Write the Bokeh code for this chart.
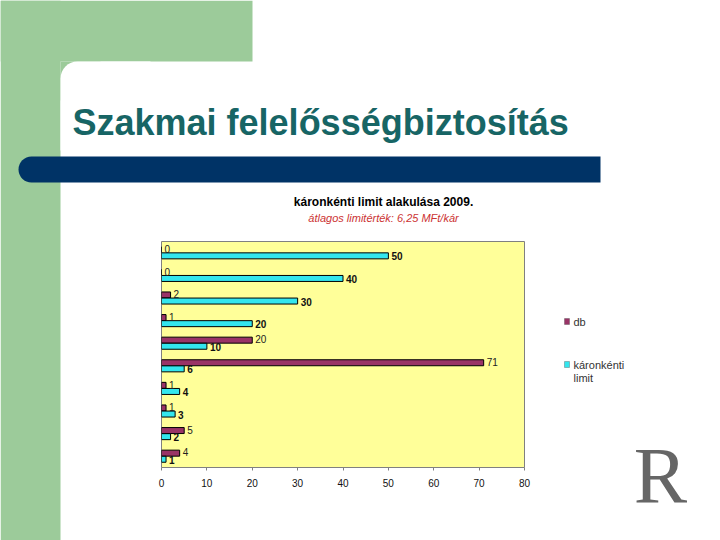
from bokeh.plotting import figure
from bokeh.layouts import column
from bokeh.models import (Range1d, ColumnDataSource, BoxAnnotation, Label,
                          FixedTicker)
from bokeh.transform import dodge
from bokeh.core.properties import value
from bokeh.embed import file_html
from bokeh.resources import INLINE

# ---- data (top to bottom) ----
groups = list(range(10))
db = [0, 0, 2, 1, 20, 71, 1, 1, 5, 4]
limit = [50, 40, 30, 20, 10, 5, 4, 3, 2, 1]
db_labels = ["0", "0", "2", "1", "20", "71", "1", "1", "5", "4"]
limit_labels = ["50", "40", "30", "20", "10", "6", "4", "3", "2", "1"]
x_ticks = [0, 10, 20, 30, 40, 50, 60, 70, 80]

slide_title = "Szakmai felelősségbiztosítás"
chart_title = "káronkénti limit alakulása 2009."
chart_subtitle = "átlagos limitérték: 6,25 MFt/kár"
legend_db = "db"
legend_limit = ["káronkénti", "limit"]

FONT = "Liberation Sans"
MAROON = "#993366"
CYAN = "#33E6EE"
GREEN = "#9CCB9A"
NAVY = "#003366"
TEAL = "#176565"

# ================= background slide =================
bg = figure(width=720, height=540, output_backend="svg", toolbar_location=None,
            x_range=Range1d(0, 720), y_range=Range1d(540, 0), title=None,
            min_border=0, frame_align=False)
bg.axis.visible = False
bg.grid.visible = False
bg.outline_line_color = None
bg.background_fill_color = "white"
bg.border_fill_color = "white"

def box(l, t, r, b, color, radius=0, line=None):
    bg.add_layout(BoxAnnotation(left=l, right=r, top=t, bottom=b,
                                fill_color=color, fill_alpha=1.0,
                                line_color=line, line_width=1,
                                border_radius=radius))

box(0, 0, 252, 61, GREEN)
box(0, 0, 60, 540, GREEN)
box(60, 61, 100, 100, GREEN)
box(60, 61, 150, 150, "white", (17, 0, 0, 0))
box(18, 156, 600, 182, NAVY, (13, 0, 0, 13))

def lab(x, y, text, size, color="black", style="normal", align="left",
        baseline="middle", font=FONT):
    bg.add_layout(Label(x=x, y=y, text=text,
                        text_font=font, text_font_size=size, text_color=color,
                        text_font_style=style, text_align=align,
                        text_baseline=baseline))

lab(72, 121.5, slide_title, "36px", TEAL, "bold", baseline="alphabetic")
lab(383, 201, chart_title, "12px", "black", "bold", align="center")
lab(383, 217, chart_subtitle, "11px", "#CC3333", "italic", align="center")

# legend
box(564, 318, 569, 324, MAROON, line="#333333")
box(564, 361, 569, 367, CYAN, line="#333333")
lab(573, 321, legend_db, "11px", "#333333")
lab(573, 364, legend_limit[0], "11px", "#333333")
lab(573, 377, legend_limit[1], "11px", "#333333")

# logo
lab(660, 475, "R", "80px", "#666666", align="center", baseline="alphabetic",
    font="Liberation Serif")

# ================= chart =================
src = ColumnDataSource(dict(
    y=[g + 0.5 for g in groups],
    db=db, limit=limit, dbl=db_labels, liml=limit_labels,
))

p = figure(width=720, height=540, output_backend="svg", toolbar_location=None,
           x_range=Range1d(0, 80), y_range=Range1d(10, 0), title=None,
           min_border_left=161, min_border_right=196,
           min_border_top=241, min_border_bottom=73, frame_align=False,
           styles={"position": "absolute", "left": "0px", "top": "0px"})
p.background_fill_color = "#FFFF99"
p.border_fill_color = None
p.outline_line_color = "#808080"
p.outline_line_width = 1
p.grid.visible = False
p.yaxis.visible = False

ax = p.xaxis[0]
ax.ticker = FixedTicker(ticks=x_ticks)
ax.axis_line_color = None
ax.major_tick_line_color = "#808080"
ax.major_tick_out = 3
ax.major_tick_in = 0
ax.minor_tick_line_color = None
ax.major_label_text_font = FONT
ax.major_label_text_font_size = "10px"
ax.major_label_text_color = "#111111"
ax.major_label_standoff = 8

H = 0.265
p.hbar(y=dodge("y", -0.135, range=p.y_range), left=0, right="db", height=H,
       source=src, fill_color=MAROON, line_color="black", line_width=1)
p.hbar(y=dodge("y", 0.135, range=p.y_range), left=0, right="limit", height=H,
       source=src, fill_color=CYAN, line_color="black", line_width=1)

p.text(x="db", y=dodge("y", -0.17, range=p.y_range), text="dbl", source=src,
       x_offset=3, text_baseline="middle", text_align="left",
       text_font=value(FONT), text_font_size="10px", text_color="#222222")
p.text(x="limit", y=dodge("y", 0.16, range=p.y_range), text="liml", source=src,
       x_offset=3, text_baseline="middle", text_align="left",
       text_font=value(FONT), text_font_size="10px", text_font_style="bold",
       text_color="#111111")

layout = column(bg, p)
open("out.html", "w").write(file_html(layout, INLINE))
